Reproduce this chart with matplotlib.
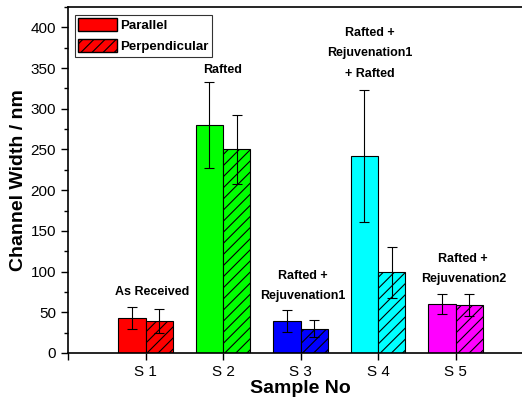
import numpy as np
import matplotlib
matplotlib.use("Agg")
import matplotlib.pyplot as plt
from matplotlib.ticker import MultipleLocator
from matplotlib.patches import Patch

plt.rcParams["font.family"] = ["Liberation Sans", "DejaVu Sans"]
plt.rcParams["hatch.linewidth"] = 0.8

samples = ["S 1", "S 2", "S 3", "S 4", "S 5"]
parallel = [43, 280, 39, 242, 60]
parallel_err = [13, 53, 13.5, 81, 12]
perpendicular = [39, 250, 30, 99, 59]
perpendicular_err = [15, 42, 10, 31, 13]
colors = ["#FF0000", "#00FF00", "#0000FF", "#00FFFF", "#FF00FF"]
notes = ["As Received", "Rafted", "Rafted +\nRejuvenation1",
         "Rafted +\nRejuvenation1\n+ Rafted", "Rafted +\nRejuvenation2"]

# annotation placement (data coords, centre of text block)
note_dx = [0.08, 0.0, 0.03, -0.1, 0.1]
note_y = [75, 348, 82, 368, 103]

fig = plt.figure(figsize=(5.22, 3.99), dpi=100)
ax = fig.add_axes([68 / 522, 46 / 399, 465 / 522, 346 / 399])

x = np.arange(1, len(samples) + 1)
w = 0.35
ekw = dict(ecolor="black", elinewidth=0.8, capthick=0.8)
ax.bar(x - w / 2, parallel, w, color=colors, edgecolor="black", linewidth=0.8,
       yerr=parallel_err, capsize=3.3, error_kw=ekw)
ax.bar(x + w / 2, perpendicular, w, color=colors, edgecolor="black", linewidth=0.8,
       hatch="///", yerr=perpendicular_err, capsize=3.3, error_kw=ekw)

for xi, txt, dx, ty in zip(x, notes, note_dx, note_y):
    ax.text(xi + dx, ty, txt, ha="center", va="center", fontsize=9,
            fontweight="bold", linespacing=1.9)

handles = [Patch(facecolor="#FF0000", edgecolor="black", label="Parallel"),
           Patch(facecolor="#FF0000", edgecolor="black", hatch="///",
                 label="Perpendicular")]
leg = ax.legend(handles=handles, loc="upper left", bbox_to_anchor=(0.005, 0.99),
                fancybox=False, edgecolor="black", handlelength=2.9,
                handleheight=1.1, borderpad=0.25, labelspacing=0.55,
                handletextpad=0.3, borderaxespad=0.35,
                prop=dict(size=9.5, weight="bold"))
leg.get_frame().set_linewidth(0.8)

ax.set_xlim(0, 6)
ax.set_ylim(0, 425)
ax.set_xticks(np.arange(0, 6))
ax.set_xticklabels([""] + samples, fontsize=11)
ax.yaxis.set_major_locator(MultipleLocator(50))
ax.yaxis.set_minor_locator(MultipleLocator(25))
ax.tick_params(axis="y", labelsize=11, direction="out", length=5, width=1)
ax.tick_params(axis="y", which="minor", direction="out", length=3, width=1)
ax.tick_params(axis="x", direction="out", length=5, width=1)
for s in ax.spines.values():
    s.set_linewidth(1.2)

ax.set_xlabel("Sample No", fontsize=14, fontweight="bold", labelpad=1)
ax.set_ylabel("Channel Width / nm", fontsize=14, fontweight="bold", labelpad=3)

fig.savefig("out.png", dpi=100)
